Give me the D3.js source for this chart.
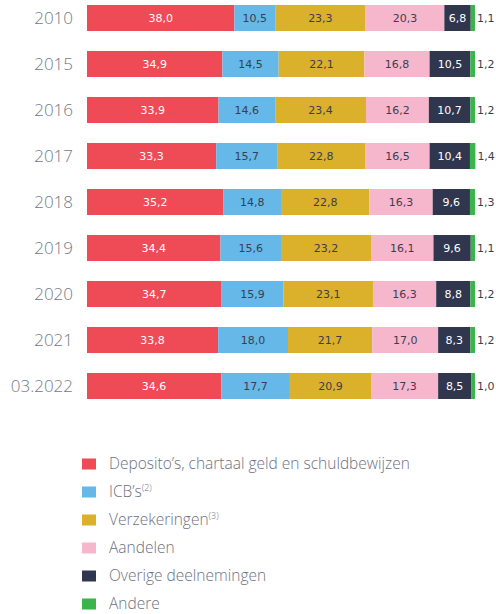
<!DOCTYPE html>
<html>
<head>
<meta charset="utf-8">
<script src="https://cdn.jsdelivr.net/npm/d3@7"></script>
<style>
  body { margin: 0; background: #fff; }
</style>
</head>
<body>
<div id="chart"></div>
<script>
var years = ["2010", "2015", "2016", "2017", "2018", "2019", "2020", "2021", "03.2022"];
var deposito = [38.0, 34.9, 33.9, 33.3, 35.2, 34.4, 34.7, 33.8, 34.6];
var icb = [10.5, 14.5, 14.6, 15.7, 14.8, 15.6, 15.9, 18.0, 17.7];
var verzekeringen = [23.3, 22.1, 23.4, 22.8, 22.8, 23.2, 23.1, 21.7, 20.9];
var aandelen = [20.3, 16.8, 16.2, 16.5, 16.3, 16.1, 16.3, 17.0, 17.3];
var overige = [6.8, 10.5, 10.7, 10.4, 9.6, 9.6, 8.8, 8.3, 8.5];
var andere = [1.1, 1.2, 1.2, 1.4, 1.3, 1.1, 1.2, 1.2, 1.0];

var seriesNames = ["Deposito’s, chartaal geld en schuldbewijzen", "ICB’s", "Verzekeringen", "Aandelen", "Overige deelnemingen", "Andere"];
var seriesSup = ["", "(2)", "(3)", "", "", ""];
var seriesData = [deposito, icb, verzekeringen, aandelen, overige, andere];
var colors = ["#ef4b57", "#65b8e7", "#dbb02b", "#f6b7cc", "#2f364e", "#3bb54b"];
var labelColors = ["#ffffff", "#3a3e50", "#3a3e50", "#3a3e50", "#ffffff", "#3a3e50"];

var width = 496, height = 614;

var svg = d3.select("#chart")
  .append("svg")
  .attr("width", width)
  .attr("height", height);

var x = d3.scaleLinear()
  .domain([0, 100])
  .range([87, 475]);

var y = d3.scaleBand()
  .domain(years)
  .range([-5, 409])
  .paddingInner(20 / 46)
  .paddingOuter(10 / 46);

// build stacked rows
var rows = years.map(function(yr, i) {
  var r = { year: yr };
  seriesData.forEach(function(s, k) { r["s" + k] = s[i]; });
  return r;
});
var stack = d3.stack().keys(seriesData.map(function(d, k) { return "s" + k; }));
var stacked = stack(rows);

var layers = svg.append("g")
  .selectAll("g")
  .data(stacked)
  .enter()
  .append("g")
  .attr("fill", function(d, k) { return colors[k]; });

layers.selectAll("rect")
  .data(function(d) { return d; })
  .enter()
  .append("rect")
  .attr("x", function(d) { return x(d[0]); })
  .attr("y", function(d) { return y(d.data.year); })
  .attr("width", function(d) { return x(d[1]) - x(d[0]); })
  .attr("height", y.bandwidth());

// value labels
layers.each(function(layer, k) {
  d3.select(this).selectAll("text")
    .data(layer)
    .enter()
    .append("text")
    .attr("x", function(d) {
      if (k === 5) return x(d[1]) + 2;
      return (x(d[0]) + x(d[1])) / 2;
    })
    .attr("y", function(d) { return y(d.data.year) + y.bandwidth() / 2; })
    .attr("dy", "0.36em")
    .attr("text-anchor", k === 5 ? "start" : "middle")
    .attr("font-family", "DejaVu Sans, Verdana, sans-serif")
    .attr("font-size", "11px")
    .attr("fill", labelColors[k])
    .text(function(d) { return d3.format(".1f")(d[1] - d[0]).replace(".", ","); });
});

// year labels
svg.append("g")
  .selectAll("text")
  .data(years)
  .enter()
  .append("text")
  .attr("x", 73)
  .attr("y", function(d) { return y(d) + y.bandwidth() / 2; })
  .attr("dy", "0.35em")
  .attr("text-anchor", "end")
  .attr("font-family", "Open Sans, sans-serif")
  .attr("font-weight", 300)
  .attr("font-size", "17px")
  .attr("fill", "#737888")
  .text(function(d) { return d; });

// legend
var legend = svg.append("g")
  .selectAll("g")
  .data(seriesNames)
  .enter()
  .append("g")
  .attr("transform", function(d, i) { return "translate(82," + (464 + i * 28) + ")"; });

legend.append("rect")
  .attr("x", 0)
  .attr("y", -5.5)
  .attr("width", 14)
  .attr("height", 11)
  .attr("fill", function(d, i) { return colors[i]; });

var lt = legend.append("text")
  .attr("x", 27)
  .attr("dy", "0.35em")
  .attr("font-family", "Open Sans, sans-serif")
  .attr("font-weight", 300)
  .attr("font-size", "15.5px")
  .attr("fill", "#6d7182");
lt.append("tspan").text(function(d) { return d; });
lt.append("tspan")
  .attr("font-size", "9px")
  .attr("dy", "-0.7em")
  .text(function(d, i) { return seriesSup[i]; });
</script>
</body>
</html>
